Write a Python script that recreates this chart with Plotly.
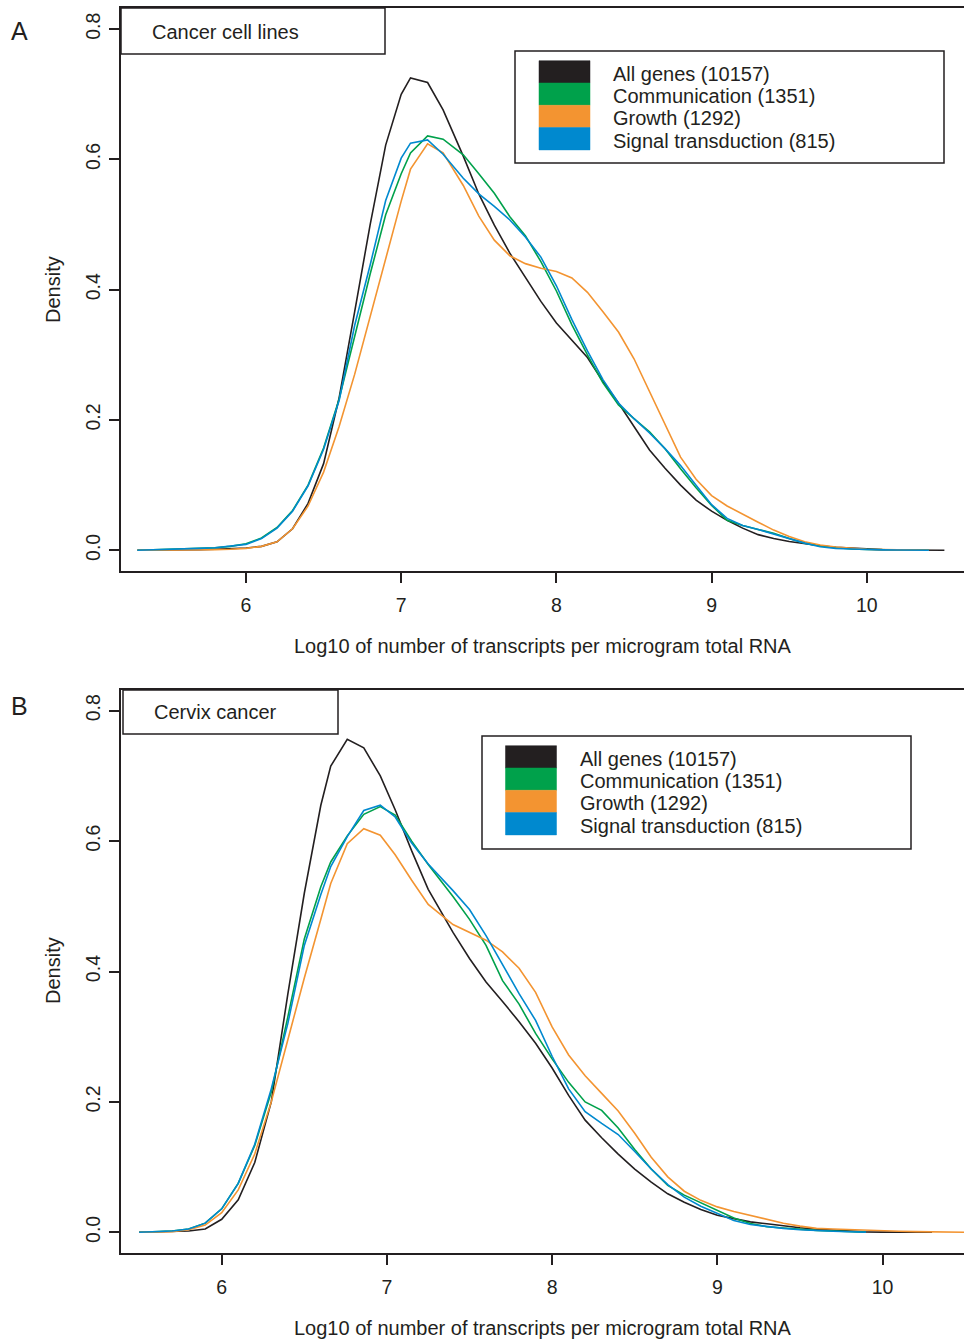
import plotly.graph_objects as go

W, H = 964, 1339
INK = "#231f20"
FONT = "Liberation Sans, Arial, Helvetica, sans-serif"

# ---------------- data ----------------
series_names = ["All genes (10157)", "Communication (1351)", "Growth (1292)", "Signal transduction (815)"]
series_colors = ["#231f20", "#00a14b", "#f39431", "#0089cf"]

panel_letters = ["A", "B"]
panel_titles = ["Cancer cell lines", "Cervix cancer"]
x_title = "Log10 of number of transcripts per microgram total RNA"
y_title = "Density"
x_ticks = [6, 7, 8, 9, 10]
y_ticks = [0.0, 0.2, 0.4, 0.6, 0.8]
y_tick_labels = ["0.0", "0.2", "0.4", "0.6", "0.8"]

# Panel A: cancer cell lines
xA = [5.3, 5.4, 5.5, 5.6, 5.7, 5.8, 5.9, 6.0, 6.1, 6.2, 6.3, 6.4, 6.5, 6.6, 6.7, 6.8, 6.9,
      7.0, 7.06, 7.17, 7.27, 7.4, 7.5, 7.6, 7.7, 7.8, 7.9, 8.0, 8.1, 8.2, 8.3, 8.4, 8.5, 8.6,
      8.7, 8.8, 8.9, 9.0, 9.1, 9.2, 9.3, 9.4, 9.5, 9.6, 9.7, 9.8, 9.9, 10.0, 10.1, 10.2,
      10.3, 10.4, 10.5]
a_all = [0.0, 0.0, 0.0005, 0.001, 0.001, 0.0015, 0.002, 0.0035, 0.006, 0.013, 0.033, 0.072,
         0.133, 0.234, 0.366, 0.50, 0.622, 0.70, 0.725, 0.718, 0.676, 0.605, 0.547, 0.499,
         0.456, 0.418, 0.382, 0.349, 0.322, 0.296, 0.259, 0.226, 0.19, 0.154, 0.126, 0.10,
         0.077, 0.060, 0.046, 0.034, 0.024, 0.018, 0.0135, 0.010, 0.007, 0.0045, 0.003,
         0.0015, 0.001, 0.0005, 0.0003, 0.0001, 0.0]
a_comm = [0.0, 0.0005, 0.001, 0.002, 0.003, 0.004, 0.006, 0.010, 0.019, 0.035, 0.061, 0.10,
          0.157, 0.232, 0.33, 0.424, 0.515, 0.578, 0.610, 0.636, 0.631, 0.607, 0.578, 0.548,
          0.512, 0.483, 0.443, 0.398, 0.346, 0.30, 0.257, 0.223, 0.202, 0.182, 0.156, 0.125,
          0.096, 0.069, 0.046, 0.038, 0.032, 0.026, 0.018, 0.011, 0.0066, 0.004, 0.002,
          0.0012, 0.0007, 0.0004, 0.0002, 0.0, None]
a_growth = [0.0, 0.0, 0.0003, 0.0005, 0.0007, 0.001, 0.0015, 0.003, 0.006, 0.013, 0.033,
            0.068, 0.12, 0.19, 0.27, 0.36, 0.446, 0.536, 0.585, 0.624, 0.61, 0.56, 0.513,
            0.476, 0.452, 0.44, 0.433, 0.428, 0.418, 0.396, 0.366, 0.335, 0.294, 0.244,
            0.193, 0.143, 0.109, 0.084, 0.068, 0.055, 0.043, 0.031, 0.021, 0.013, 0.008,
            0.005, 0.003, 0.0015, 0.001, 0.0005, 0.0002, 0.0, None]
a_signal = [0.0, 0.0005, 0.001, 0.002, 0.003, 0.004, 0.006, 0.009, 0.018, 0.034, 0.06, 0.099,
            0.155, 0.23, 0.345, 0.438, 0.537, 0.602, 0.625, 0.630, 0.608, 0.571, 0.547,
            0.528, 0.507, 0.481, 0.45, 0.406, 0.354, 0.306, 0.262, 0.226, 0.202, 0.18,
            0.156, 0.13, 0.10, 0.07, 0.049, 0.038, 0.032, 0.025, 0.017, 0.011, 0.0055,
            0.003, 0.002, 0.001, 0.0007, 0.0004, 0.0002, 0.0, None]

# Panel B: cervix cancer
xB = [5.5, 5.6, 5.7, 5.8, 5.9, 6.0, 6.1, 6.2, 6.3, 6.4, 6.5, 6.6, 6.66, 6.76, 6.86, 6.96, 7.05,
      7.15, 7.25, 7.4, 7.5, 7.6, 7.7, 7.8, 7.9, 8.0, 8.1, 8.2, 8.3, 8.4, 8.5, 8.6, 8.7, 8.8,
      8.9, 9.0, 9.1, 9.2, 9.3, 9.4, 9.5, 9.6, 9.7, 9.8, 9.9, 10.0, 10.1, 10.2, 10.3, 10.4,
      10.5]
b_all = [0.0, 0.0005, 0.001, 0.002, 0.005, 0.02, 0.05, 0.107, 0.20, 0.365, 0.52, 0.655,
         0.715, 0.756, 0.743, 0.70, 0.648, 0.585, 0.526, 0.46, 0.42, 0.384, 0.354, 0.323,
         0.29, 0.252, 0.21, 0.172, 0.145, 0.12, 0.097, 0.077, 0.059, 0.046, 0.035, 0.026,
         0.021, 0.016, 0.013, 0.0097, 0.007, 0.0046, 0.003, 0.0017, 0.0006, 0.0003, 0.0002,
         0.0001, 0.0, None, None]
b_comm = [0.0, 0.0005, 0.002, 0.005, 0.014, 0.036, 0.075, 0.133, 0.215, 0.33, 0.45, 0.53,
          0.568, 0.608, 0.641, 0.653, 0.640, 0.60, 0.564, 0.515, 0.48, 0.44, 0.386, 0.35,
          0.305, 0.266, 0.23, 0.20, 0.187, 0.16, 0.127, 0.097, 0.072, 0.057, 0.045, 0.034,
          0.022, 0.0135, 0.0086, 0.0065, 0.0046, 0.003, 0.002, 0.001, 0.0003, None, None,
          None, None, None, None]
b_growth = [0.0, 0.0003, 0.001, 0.004, 0.011, 0.03, 0.065, 0.12, 0.20, 0.295, 0.39, 0.48,
            0.535, 0.596, 0.619, 0.609, 0.579, 0.54, 0.503, 0.472, 0.46, 0.448, 0.43, 0.405,
            0.368, 0.315, 0.272, 0.24, 0.213, 0.186, 0.152, 0.115, 0.085, 0.063, 0.049,
            0.039, 0.032, 0.026, 0.02, 0.014, 0.0095, 0.006, 0.005, 0.004, 0.0025, 0.002,
            0.0015, 0.001, 0.0005, 0.0002, 0.0]
b_signal = [0.0, 0.0005, 0.002, 0.005, 0.014, 0.036, 0.075, 0.135, 0.22, 0.32, 0.44, 0.518,
            0.561, 0.607, 0.647, 0.655, 0.637, 0.597, 0.565, 0.524, 0.495, 0.455, 0.41, 0.366,
            0.325, 0.27, 0.22, 0.185, 0.167, 0.15, 0.124, 0.097, 0.073, 0.054, 0.04, 0.029,
            0.018, 0.012, 0.0086, 0.006, 0.004, 0.0025, 0.0015, 0.0008, 0.0002, None, None,
            None, None, None, None]

panels = [
    (xA, [a_all, a_comm, a_growth, a_signal]),
    (xB, [b_all, b_comm, b_growth, b_signal]),
]

# ---------------- layout geometry (pixels) ----------------
def fx(x):
    return x / W

def fy(y):
    return 1 - y / H

geo = [
    dict(box=(121, 8, 964, 571), xr=[5.1946, 10.6263], yr=[-0.0318, 0.8324],
         tbox=(121, 8, 385, 54), ttext_x=150, ttext_y=32,
         leg=(515, 51, 944, 163), sw=(539, 590, 60.7, 22.3), ltx=611,
         letter=(19, 31), xt_y=646, yt=(53, 290)),
    dict(box=(121, 690, 964, 1253), xr=[5.3904, 10.4933], yr=[-0.03175, 0.83175],
         tbox=(123, 690, 338, 734), ttext_x=152, ttext_y=712,
         leg=(482, 736, 911, 849), sw=(505.5, 556.5, 745.7, 22.3), ltx=578,
         letter=(19, 706), xt_y=1328, yt=(53, 971)),
]

fig = go.Figure()
shapes = []
annotations = []

for i, ((xs, ys_list), g) in enumerate(zip(panels, geo)):
    sfx = "" if i == 0 else str(i + 1)
    for name, col, ys in zip(series_names, series_colors, ys_list):
        fig.add_trace(go.Scatter(
            x=xs, y=ys, mode="lines", name=name, showlegend=False,
            line=dict(color=col, width=1.6), connectgaps=False,
            xaxis="x" + sfx, yaxis="y" + sfx, hoverinfo="skip"))

    l, t, r, b = g["box"]
    axis_common = dict(showgrid=False, zeroline=False, showline=True, linecolor=INK,
                       linewidth=2, ticks="outside", ticklen=10, tickwidth=1.5,
                       tickcolor=INK, tickfont=dict(family=FONT, size=19.5, color=INK))
    fig.layout["xaxis" + sfx] = dict(
        domain=[fx(l), fx(r)], range=g["xr"], anchor="y" + sfx, mirror=True,
        tickmode="array", tickvals=x_ticks, ticktext=[str(v) for v in x_ticks],
        ticklabelstandoff=6, **axis_common)
    fig.layout["yaxis" + sfx] = dict(
        domain=[fy(b), fy(t)], range=g["yr"], anchor="x" + sfx, mirror=False,
        tickmode="array", tickvals=y_ticks, ticktext=y_tick_labels, tickangle=-90,
        ticklabelstandoff=1, **axis_common)

    # title box
    x0, y0, x1, y1 = g["tbox"]
    shapes.append(dict(type="rect", xref="paper", yref="paper", x0=fx(x0), x1=fx(x1),
                       y0=fy(y1), y1=fy(y0), line=dict(color=INK, width=1.5),
                       fillcolor="white", layer="above"))
    annotations.append(dict(text=panel_titles[i], xref="paper", yref="paper",
                            x=fx(g["ttext_x"]), y=fy(g["ttext_y"]), xanchor="left",
                            yanchor="middle", showarrow=False,
                            font=dict(family=FONT, size=20, color=INK)))

    # legend box
    x0, y0, x1, y1 = g["leg"]
    shapes.append(dict(type="rect", xref="paper", yref="paper", x0=fx(x0), x1=fx(x1),
                       y0=fy(y1), y1=fy(y0), line=dict(color=INK, width=1.5),
                       fillcolor="white", layer="above"))
    sx0, sx1, sy0, sh = g["sw"]
    for k, (name, col) in enumerate(zip(series_names, series_colors)):
        top = sy0 + k * sh
        shapes.append(dict(type="rect", xref="paper", yref="paper", x0=fx(sx0), x1=fx(sx1),
                           y0=fy(top + sh), y1=fy(top), line=dict(color=col, width=0.5),
                           fillcolor=col, layer="above"))
        annotations.append(dict(text=name, xref="paper", yref="paper", x=fx(g["ltx"]),
                                y=fy(top + sh / 2 + 2), xanchor="left", yanchor="middle",
                                showarrow=False, font=dict(family=FONT, size=20, color=INK)))

    # panel letter
    annotations.append(dict(text=panel_letters[i], xref="paper", yref="paper",
                            x=fx(g["letter"][0]), y=fy(g["letter"][1]), xanchor="center",
                            yanchor="middle", showarrow=False,
                            font=dict(family=FONT, size=25, color=INK)))
    # axis titles
    annotations.append(dict(text=x_title, xref="paper", yref="paper", x=fx(543),
                            y=fy(g["xt_y"]), xanchor="center", yanchor="middle",
                            showarrow=False, font=dict(family=FONT, size=20, color=INK)))
    annotations.append(dict(text=y_title, xref="paper", yref="paper", x=fx(g["yt"][0]),
                            y=fy(g["yt"][1]), xanchor="center", yanchor="middle",
                            textangle=-90, showarrow=False,
                            font=dict(family=FONT, size=20, color=INK)))

fig.update_layout(width=W, height=H, margin=dict(l=0, r=0, t=0, b=0),
                  paper_bgcolor="white", plot_bgcolor="white",
                  shapes=shapes, annotations=annotations, showlegend=False)

fig.write_html("out.html")
